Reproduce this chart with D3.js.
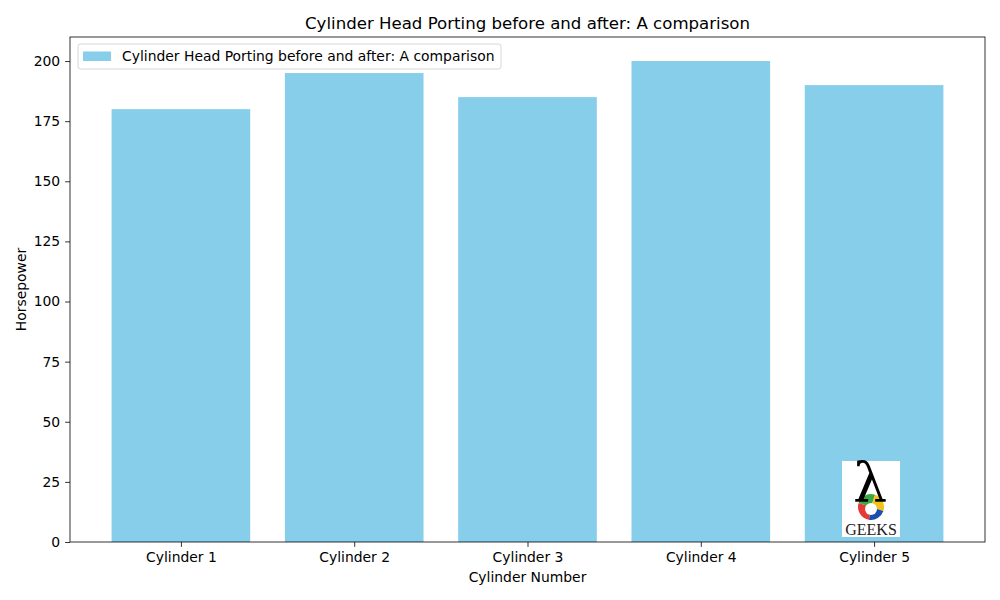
<!DOCTYPE html>
<html><head><meta charset="utf-8">
<script src="https://cdn.jsdelivr.net/npm/d3@7"></script>
<style>body{margin:0;background:#fff;}svg{display:block;font-family:"DejaVu Sans",sans-serif;}</style>
</head><body><svg id="c" width="1000" height="600"></svg>
<script>
const categories = ["Cylinder 1","Cylinder 2","Cylinder 3","Cylinder 4","Cylinder 5"];
const horsepower = [180, 195, 185, 200, 190];
const yTicks = [0,25,50,75,100,125,150,175,200];
const title = "Cylinder Head Porting before and after: A comparison";

const svg = d3.select("#c");
const L=70,R=985,T=37,B=542;
const x = d3.scaleLinear().domain([-0.64,4.64]).range([L,R]);
const y = d3.scaleLinear().domain([0,210]).range([B,T]);
const color = "#87ceeb";

svg.append("g").selectAll("rect").data(horsepower).join("rect")
  .attr("x",(d,i)=>x(i-0.4)).attr("width",(d,i)=>x(i+0.4)-x(i-0.4))
  .attr("y",d=>y(d)).attr("height",d=>y(0)-y(d)).attr("fill",color);

// logo
const lg = svg.append("g").attr("transform","translate(842,461)");
lg.append("rect").attr("width",58).attr("height",76).attr("fill","#fff");
const cx=29, cy=46, r=13;
const arc = d3.arc().innerRadius(0).outerRadius(r);
const segs=[["#e53935",-Math.PI*0.95,-Math.PI*0.4],["#3aa845",-Math.PI*0.4,Math.PI*0.1],["#f2c21b",Math.PI*0.1,Math.PI*0.6],["#1a4fb0",Math.PI*0.6,Math.PI*1.05]];
segs.forEach(s=>lg.append("path").attr("transform",`translate(${cx},${cy})`).attr("d",arc({startAngle:s[1],endAngle:s[2]})).attr("fill",s[0]));
lg.append("circle").attr("cx",cx).attr("cy",cy+2).attr("r",6).attr("fill","#fff");
lg.append("text").attr("x",cx-1).attr("y",40).attr("text-anchor","middle").attr("font-family","DejaVu Serif, serif").attr("font-size",54).attr("fill","#000").text("λ");
lg.append("text").attr("x",cx).attr("y",74).attr("text-anchor","middle").attr("font-family","Liberation Serif, serif").attr("font-size",16).attr("fill","#222").text("GEEKS");

// axes
const xa = svg.append("g").attr("transform",`translate(0,${B})`)
  .call(d3.axisBottom(x).tickValues(d3.range(categories.length)).tickFormat(i=>categories[i]).tickSizeOuter(0).tickSize(4.9).tickPadding(4.9));
const ya = svg.append("g").attr("transform",`translate(${L},0)`)
  .call(d3.axisLeft(y).tickValues(yTicks).tickSizeOuter(0).tickSize(4.9).tickPadding(4.9));
[xa,ya].forEach(a=>{a.select(".domain").remove();a.selectAll("text").attr("font-size",13.9).attr("font-family","DejaVu Sans").attr("fill","#000");a.selectAll("line").attr("stroke","#000").attr("stroke-width",0.8);});
svg.append("rect").attr("x",L).attr("y",T).attr("width",R-L).attr("height",B-T).attr("fill","none").attr("stroke","#000").attr("stroke-width",0.8);

svg.append("text").attr("x",(L+R)/2).attr("y",29).attr("text-anchor","middle").attr("font-size",16.6).text(title);
svg.append("text").attr("x",(L+R)/2).attr("y",582).attr("text-anchor","middle").attr("font-size",13.9).text("Cylinder Number");
svg.append("text").attr("transform",`translate(26,${(T+B)/2}) rotate(-90)`).attr("text-anchor","middle").attr("font-size",13.9).text("Horsepower");

// legend
const leg = svg.append("g");
leg.append("rect").attr("x",78).attr("y",44).attr("width",423).attr("height",25).attr("rx",2.5).attr("fill","#fff").attr("fill-opacity",0.8).attr("stroke","#ccc").attr("stroke-width",0.8);
leg.append("rect").attr("x",83).attr("y",51.5).attr("width",28).attr("height",9.5).attr("fill",color);
leg.append("text").attr("x",122).attr("y",61).attr("font-size",13.9).text(title);
</script></body></html>
